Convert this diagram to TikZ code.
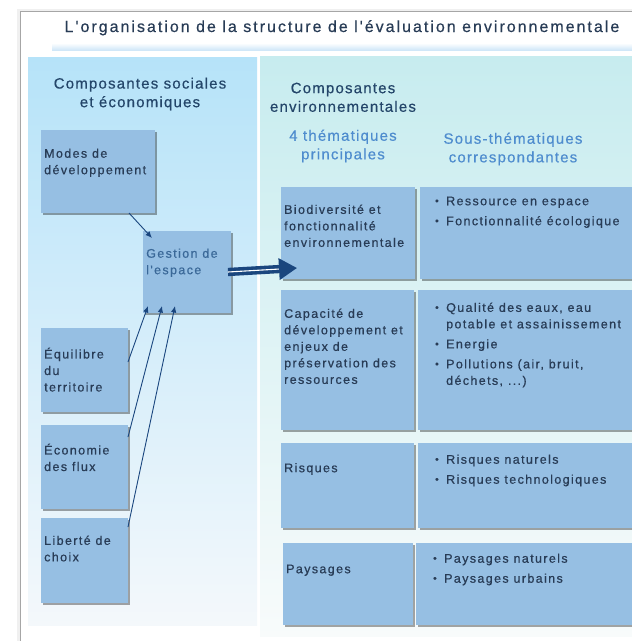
\documentclass[tikz,border=0pt]{standalone}
\usepackage{fontspec}
\setmainfont{Liberation Sans}
\newfontfamily\titlefont{Liberation Sans}[LetterSpace=12.5,FakeBold=0.4]
\newfontfamily\headfont{Liberation Sans}[LetterSpace=8,FakeBold=0.5]
\newfontfamily\boxfont{Liberation Sans}[LetterSpace=11,FakeBold=0.6]
\usetikzlibrary{shadows,arrows.meta,calc}

\definecolor{boxblue}{RGB}{150,191,227}
\definecolor{textdark}{RGB}{40,60,86}
\definecolor{headdark}{RGB}{36,70,106}
\definecolor{headlight}{RGB}{78,140,206}
\definecolor{gestblue}{RGB}{58,104,152}
\definecolor{navy}{RGB}{26,70,126}
\definecolor{lptop}{RGB}{182,227,249}
\definecolor{lpbot}{RGB}{244,248,251}
\definecolor{rptop}{RGB}{199,236,239}
\definecolor{rpbot}{RGB}{248,251,251}
\definecolor{bandblue}{RGB}{208,231,248}

\tikzset{
  box/.style={fill=boxblue, draw=none, anchor=north west, inner sep=0pt, outer sep=0pt,
    drop shadow={shadow xshift=1.6pt, shadow yshift=-1.6pt, fill=black, opacity=0.35}},
  txt/.style={anchor=north west, inner sep=0pt, align=left, yshift=8.55pt,
    font=\boxfont\fontsize{12.5}{16.5}\selectfont, text=textdark,
    execute at begin node=\strut},
  head/.style={anchor=north, inner sep=0pt, align=center, yshift=10.5pt,
    font=\headfont\fontsize{15}{18.6}\selectfont, text=headdark,
    execute at begin node=\strut},
  thin arrow/.style={draw=navy, line width=0.9pt, -{Latex[length=6.5pt,width=5.5pt]}},
  big arrow/.style={draw=navy, line width=3.6pt, double=white, double distance=1.1pt,
    -{Triangle[length=18pt,width=21pt]}}
}
\newcommand{\itm}{\makebox[11pt][l]{\raisebox{1pt}{\scalebox{0.8}{\textbullet}}}}
\newcommand{\cnt}{\hspace*{11pt}}

\begin{document}
\begin{tikzpicture}[x=1pt,y=-1pt]
\useasboundingbox (0,0) rectangle (632,641);
\fill[white] (0,0) rectangle (632,641);

% sheet edge
\fill[black!6] (17,9) rectangle (632,641);
\fill[white] (20,11) rectangle (632,641);
\draw[black!35, line width=0.8pt] (20,641) -- (20,11) -- (632,11);

% title band
\shade[top color=white, bottom color=bandblue] (52,43) rectangle (632,50);
\node[anchor=base, inner sep=0pt, font=\titlefont\fontsize{16}{18}\selectfont, text=textdark]
  (title) at (342,32) {L'organisation de la structure de l'évaluation environnementale};

% two panels
\shade[top color=lptop, bottom color=lpbot] (28,57) rectangle (257,625);
\shade[top color=rptop, bottom color=rpbot] (260,56) rectangle (632,636);

% panel headings
\node[head] (hsoc) at (140,88) {Composantes sociales\\et économiques};
\node[head] (henv) at (343,93) {Composantes\\environnementales};
\node[head, text=headlight] (hthem) at (343,140) {4 thématiques\\principales};
\node[head, text=headlight] (hsous) at (513,143) {Sous-thématiques\\correspondantes};

% social and economic components
\node[box, minimum width=114pt, minimum height=83pt] (modes) at (41,130) {};
\node[box, minimum width=88pt, minimum height=82pt] (gestion) at (143,231) {};
\node[box, minimum width=87pt, minimum height=84pt] (equil) at (41,328) {};
\node[box, minimum width=87pt, minimum height=84pt] (econ) at (41,425) {};
\node[box, minimum width=87pt, minimum height=85pt] (liberte) at (41,518) {};

\node[txt] at (44,157) {Modes de\\développement};
\node[txt, text=gestblue] at (146,257) {Gestion de\\l'espace};
\node[txt] at (44,356) {Équilibre\\du\\territoire};
\node[txt] at (44,452) {Économie\\des flux};
\node[txt] at (44,544) {Liberté de\\choix};

% environmental themes
\node[box, minimum width=134pt, minimum height=92pt] (bio) at (281,187) {};
\node[box, minimum width=212pt, minimum height=92pt] (biosub) at (420,187) {};
\node[box, minimum width=133pt, minimum height=140pt] (cap) at (281,290) {};
\node[box, minimum width=214pt, minimum height=140pt] (capsub) at (418,290) {};
\node[box, minimum width=133pt, minimum height=85pt] (risq) at (281,443) {};
\node[box, minimum width=214pt, minimum height=85pt] (risqsub) at (418,443) {};
\node[box, minimum width=130pt, minimum height=82pt] (pays) at (283,543) {};
\node[box, minimum width=216pt, minimum height=82pt] (payssub) at (416,543) {};

\node[txt] at (284,213) {Biodiversité et\\fonctionnalité\\environnementale};
\node[txt] at (284,317) {Capacité de\\développement et\\enjeux de\\préservation des\\ressources};
\node[txt] at (284,469) {Risques};
\node[txt] at (286,570) {Paysages};

\node[txt] at (435,205) {\itm Ressource en espace\\[3.5pt]\itm Fonctionnalité écologique};
\node[txt] at (435,311) {\itm Qualité des eaux, eau\\\cnt potable et assainissement\\[3.5pt]
  \itm Energie\\[3.5pt]\itm Pollutions (air, bruit,\\\cnt déchets, ...)};
\node[txt] at (435,463) {\itm Risques naturels\\[3.5pt]\itm Risques technologiques};
\node[txt] at (433,562) {\itm Paysages naturels\\[3.5pt]\itm Paysages urbains};

% connectors
\draw[thin arrow] ($(modes.south west)+(88,0)$) -- ($(gestion.north west)+(9,7)$);
\draw[thin arrow] ($(equil.north east)+(0,34)$) -- ($(gestion.south west)+(5,-7)$);
\draw[thin arrow] ($(econ.north east)+(0,12)$) -- ($(gestion.south west)+(19,-7)$);
\draw[thin arrow] ($(liberte.north east)+(0,9)$) -- ($(gestion.south west)+(32,-7)$);
\coordinate (tip) at ($(bio.north west)+(16,81)$);
\draw[big arrow] ($(gestion.east)+(-3,0)$) -- (tip);
\end{tikzpicture}
\end{document}
